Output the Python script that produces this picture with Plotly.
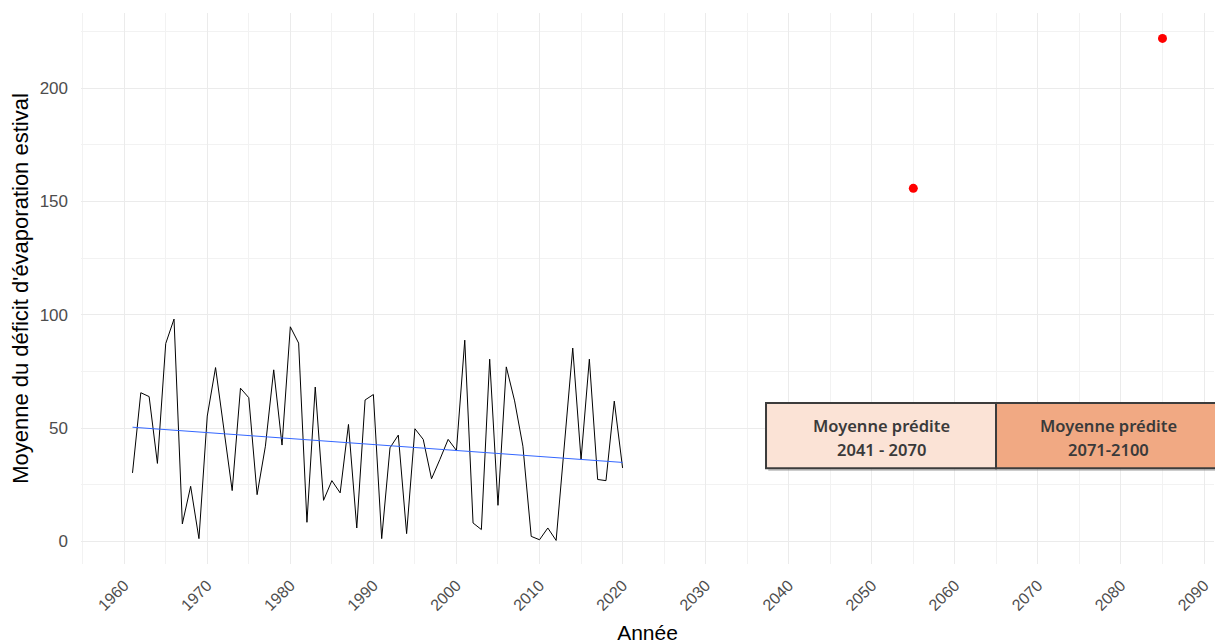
import numpy as np
import plotly.graph_objects as go

years = list(range(1961, 2021))
deficit = [30.2, 65.6, 63.9, 34.4, 87.3, 98.1, 7.7, 24.3, 1.2, 55.3,
           76.7, 49.6, 22.4, 67.6, 63.4, 20.6, 42.0, 75.7, 42.5, 94.7,
           87.5, 8.4, 68.1, 18.1, 26.8, 21.4, 51.6, 5.9, 62.4, 64.8,
           1.2, 41.3, 46.9, 3.4, 49.7, 45.0, 27.6, 36.1, 45.0, 40.1,
           88.8, 8.1, 5.2, 80.4, 15.9, 77.0, 62.0, 42.0, 2.2, 0.7,
           5.9, 0.4, 42.8, 85.3, 36.1, 80.4, 27.3, 26.8, 61.9, 32.4]

pred_years = [2055, 2085]
pred_values = [155.8, 222.0]

box_labels = [["Moyenne prédite", "2041 - 2070"], ["Moyenne prédite", "2071-2100"]]
box_colors = ["#FBE3D6", "#F1A983"]

x_ticks = list(range(1960, 2100, 10))
y_ticks = [0, 50, 100, 150, 200]

# linear trend (lm)
slope, intercept = np.polyfit(years, deficit, 1)
trend = [intercept + slope * y for y in years]

fig = go.Figure()
fig.add_trace(go.Scatter(x=years, y=deficit, mode="lines",
                         line=dict(color="black", width=1), showlegend=False))
fig.add_trace(go.Scatter(x=years, y=trend, mode="lines",
                         line=dict(color="#3366FF", width=1), showlegend=False))
fig.add_trace(go.Scatter(x=pred_years, y=pred_values, mode="markers",
                         marker=dict(color="#FF0000", size=9), showlegend=False))

# annotation boxes (paper coords)
bx = [(0.6046, 0.8076), (0.8076, 1.0062)]
by = (0.174, 0.292)
for (x0, x1), col, lab in zip(bx, box_colors, box_labels):
    fig.add_shape(type="rect", xref="paper", yref="paper",
                  x0=x0 + 0.002, x1=x1 + 0.002, y0=by[0] - 0.005, y1=by[1] - 0.005,
                  fillcolor="#9a9a9a", line=dict(width=0), layer="above", opacity=0.5)
    fig.add_shape(type="rect", xref="paper", yref="paper",
                  x0=x0, x1=x1, y0=by[0], y1=by[1],
                  fillcolor=col, line=dict(color="#3C3C3C", width=2), layer="above")
    xc = (x0 + x1) / 2
    fig.add_annotation(x=xc, y=0.252, xref="paper", yref="paper", text=lab[0],
                       showarrow=False, xanchor="center", yanchor="middle",
                       font=dict(family="Noto Sans", size=16.5, color="#3A3A3A", weight=600))
    fig.add_annotation(x=xc, y=0.207, xref="paper", yref="paper", text=lab[1],
                       showarrow=False, xanchor="center", yanchor="middle",
                       font=dict(family="Noto Sans", size=16.5, color="#3A3A3A", weight=600))

grid = "#EBEBEB"
fig.update_layout(
    width=1215, height=636,
    margin=dict(l=73, r=9, t=5, b=80, autoexpand=False),
    paper_bgcolor="white", plot_bgcolor="white",
    font=dict(family="Liberation Sans, Arial", color="#4D4D4D"),
    xaxis=dict(range=[1954.8, 2091.2], tickvals=x_ticks, tickangle=-45, automargin=False,
               showgrid=True, gridcolor=grid, gridwidth=1.2, zeroline=False,
               showline=False, ticks="", ticklabelstandoff=8,
               tickfont=dict(size=16, color="#4D4D4D"),
               minor=dict(dtick=5, tick0=1955, showgrid=True, gridcolor="#F2F2F2", gridwidth=0.8),
               title=dict(text="Année", font=dict(size=21, color="black"), standoff=19)),
    yaxis=dict(range=[-10, 233.2], tickvals=y_ticks, automargin=False,
               showgrid=True, gridcolor=grid, gridwidth=1.2, zeroline=False,
               showline=False, ticks="", ticklabelstandoff=12,
               tickfont=dict(size=17, color="#4D4D4D"),
               minor=dict(dtick=25, tick0=25, showgrid=True, gridcolor="#F2F2F2", gridwidth=0.8),
               title=dict(text="Moyenne du déficit d'évaporation estival",
                          font=dict(size=22, color="black"), standoff=6)),
)

fig.write_html("out.html")
